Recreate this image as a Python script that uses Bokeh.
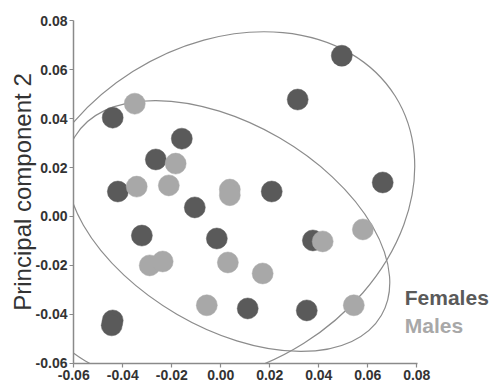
from bokeh.plotting import figure
from bokeh.models import Range1d, FixedTicker, Label
from bokeh.embed import file_html
from bokeh.resources import INLINE

# ---- data ----
female_x = [0.0494, 0.0314, 0.0661, 0.0208, -0.0441, -0.0159, -0.0265, -0.0420,
            -0.0106, -0.0322, -0.0016, 0.0376, 0.0110, 0.0351, -0.0441, -0.0445]
female_y = [0.0657, 0.0478, 0.0139, 0.0102, 0.0404, 0.0318, 0.0233, 0.0102,
            0.0037, -0.0078, -0.0090, -0.0098, -0.0376, -0.0384, -0.0425, -0.0445]

male_x = [-0.0351, -0.0184, -0.0343, -0.0212, 0.0037, 0.0037, -0.0290, -0.0237,
          0.0029, -0.0057, 0.0171, 0.0580, 0.0416, 0.0543]
male_y = [0.0461, 0.0216, 0.0122, 0.0127, 0.0110, 0.0087, -0.0200, -0.0184,
          -0.0188, -0.0363, -0.0233, -0.0053, -0.0102, -0.0363]

# confidence ellipses: centre, full width, full height, rotation (radians)
ell_x = [-0.0010, 0.0030]
ell_y = [0.0037, -0.0039]
ell_w = [0.1706, 0.1448]
ell_h = [0.1313, 0.0834]
ell_a = [0.562, -0.527]

ticks = [-0.06, -0.04, -0.02, 0.0, 0.02, 0.04, 0.06, 0.08]
tick_labels = ["-0.06", "-0.04", "-0.02", "0.00", "0.02", "0.04", "0.06", "0.08"]

FEM = "#5a5a5a"
MAL = "#a8a8a8"
FONT = "Liberation Sans"

p = figure(frame_width=418, frame_height=343,
           min_border_left=73, min_border_top=20, min_border_right=4, min_border_bottom=21,
           x_range=Range1d(-0.0601, 0.1105), y_range=Range1d(-0.0601, 0.0801),
           output_backend="svg", toolbar_location=None)

p.grid.visible = False
p.outline_line_color = None
p.background_fill_color = "white"
p.border_fill_color = "white"

p.ellipse(x=ell_x, y=ell_y, width=ell_w, height=ell_h, angle=ell_a,
          fill_alpha=0, line_color="#8c8c8c", line_width=1.2)

p.scatter(female_x, female_y, size=21, fill_color=FEM, line_color=FEM, line_width=0.5)
p.scatter(male_x, male_y, size=21, fill_color=MAL, line_color=MAL, line_width=0.5)

overrides = {t: l for t, l in zip(ticks, tick_labels)}
for ax in (p.xaxis[0], p.yaxis[0]):
    ax.ticker = FixedTicker(ticks=ticks)
    ax.major_label_overrides = overrides
    ax.minor_tick_line_color = None
    ax.axis_line_color = "#8a8a8a"
    ax.axis_line_width = 1.5
    ax.major_tick_line_color = "#8a8a8a"
    ax.major_tick_line_width = 1.2
    ax.major_tick_out = 4
    ax.major_tick_in = 0
    ax.major_label_text_font = FONT
    ax.major_label_text_font_size = "14px"
    ax.major_label_text_font_style = "bold"
    ax.major_label_text_color = "#333333"
    ax.major_label_standoff = 2
p.xaxis[0].bounds = (-0.0601, 0.0801)

p.yaxis[0].axis_label = "Principal component 2"
p.yaxis[0].axis_label_text_font = FONT
p.yaxis[0].axis_label_text_font_size = "24px"
p.yaxis[0].axis_label_text_font_style = "normal"
p.yaxis[0].axis_label_text_color = "#333333"
p.yaxis[0].axis_label_standoff = -3

p.add_layout(Label(x=0.0751, y=-0.0331, text="Females", text_font=FONT,
                   text_font_size="21px", text_font_style="bold", text_color=FEM,
                   text_baseline="alphabetic"))
p.add_layout(Label(x=0.0751, y=-0.0445, text="Males", text_font=FONT,
                   text_font_size="21px", text_font_style="bold", text_color=MAL,
                   text_baseline="alphabetic"))

open("out.html", "w").write(file_html(p, INLINE))
